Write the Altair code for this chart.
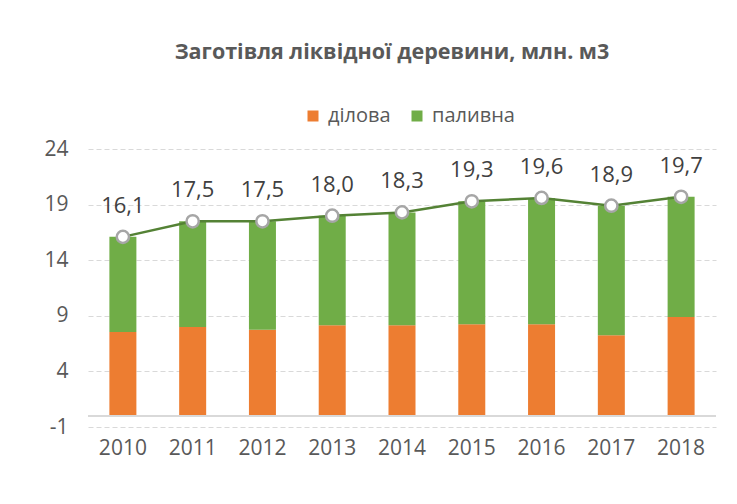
import altair as alt
import pandas as pd

years = ["2010", "2011", "2012", "2013", "2014", "2015", "2016", "2017", "2018"]
dilova = [7.55, 8.0, 7.75, 8.15, 8.15, 8.25, 8.25, 7.25, 8.9]
palyvna = [8.55, 9.5, 9.75, 9.85, 10.15, 11.05, 11.35, 11.65, 10.8]
totals = [16.1, 17.5, 17.5, 18.0, 18.3, 19.3, 19.6, 18.9, 19.7]
series = ["ділова", "паливна"]
colors = ["#ED7D31", "#70AD47"]
y_ticks = [-1, 4, 9, 14, 19, 24]

rows = []
for i, y in enumerate(years):
    rows.append({"year": y, "series": series[0], "value": dilova[i], "ord": 0})
    rows.append({"year": y, "series": series[1], "value": palyvna[i], "ord": 1})
bars_df = pd.DataFrame(rows)
tot_df = pd.DataFrame({"year": years, "total": totals})

FONT = "Open Sans"
x_enc = alt.X("year:N", sort=years, title=None,
              scale=alt.Scale(paddingInner=0, paddingOuter=0),
              axis=alt.Axis(labelFontSize=21, labelColor="#595959", labelFont=FONT,
                            domain=False, ticks=False, labelPadding=10, labelAngle=0))
y_scale = alt.Scale(domain=[-1, 24], nice=False, zero=False)

bars = alt.Chart(bars_df).mark_bar(size=27).encode(
    x=x_enc,
    y=alt.Y("value:Q", stack="zero", scale=y_scale, title=None,
            axis=alt.Axis(values=y_ticks, labelFontSize=21, labelColor="#595959",
                          labelFont=FONT, domain=False, ticks=False, labelPadding=20,
                          labelExpr="'' + datum.value",
                          grid=True, gridColor="#d9d9d9", gridDash=[5, 3], gridWidth=1)),
    color=alt.Color("series:N", scale=alt.Scale(domain=series, range=colors),
                    legend=alt.Legend(title=None, orient="none", direction="horizontal",
                                      legendX=215, legendY=-43, symbolType="square",
                                      symbolSize=121, symbolStrokeWidth=0,
                                      labelFontSize=20, labelFont=FONT,
                                      labelColor="#595959", columnPadding=16,
                                      labelOffset=5)),
    order=alt.Order("ord:Q"),
)

zero_rule = alt.Chart(tot_df).mark_rule(color="#d9d9d9", strokeWidth=2).encode(
    y=alt.datum(0)
)

line = alt.Chart(tot_df).mark_line(color="#548235", strokeWidth=2.5).encode(
    x=alt.X("year:N", sort=years),
    y=alt.Y("total:Q", scale=y_scale),
)
points = alt.Chart(tot_df).mark_point(
    filled=True, fill="white", stroke="#a6a6a6", strokeWidth=2.5, size=150, opacity=1
).encode(
    x=alt.X("year:N", sort=years),
    y=alt.Y("total:Q", scale=y_scale),
)
labels = alt.Chart(tot_df).transform_calculate(
    lbl="replace(format(datum.total, '.1f'), '.', ',')"
).mark_text(fontSize=22, font=FONT, color="#404040", dy=-31, baseline="middle").encode(
    x=alt.X("year:N", sort=years),
    y=alt.Y("total:Q", scale=y_scale),
    text="lbl:N",
)

chart = alt.layer(bars, zero_rule, line, points, labels).properties(
    width=628, height=278,
    autosize=alt.AutoSizeParams(type="none"),
    padding={"left": 80, "top": 141, "right": 13, "bottom": 69},
    title=alt.TitleParams("Заготівля ліквідної деревини, млн. м3", fontSize=21.5,
                          font=FONT, fontWeight="bold", color="#595959",
                          anchor="middle", offset=43, dx=-10),
).configure(background="white").configure_view(stroke=None)

chart.save("out.html", embed_options={"renderer": "svg", "actions": False})
